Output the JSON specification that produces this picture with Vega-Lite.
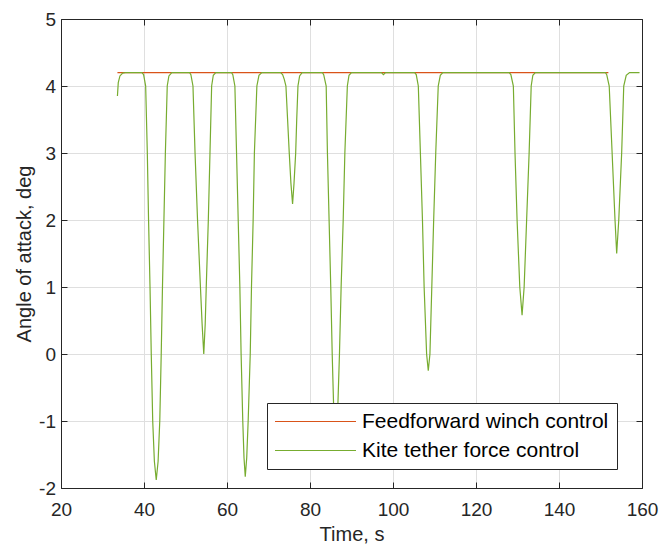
{
  "$schema": "https://vega.github.io/schema/vega-lite/v6.json",
  "width": 581,
  "height": 469,
  "autosize": {"type": "none"},
  "padding": {"left": 61, "top": 19, "right": 20, "bottom": 57},
  "config": {"view": {"stroke": null}, "font": "Liberation Sans"},
  "layer": [
    {
      "data": {"values": [
        {"t": 33.6, "v": 4.2, "series": "Feedforward winch control"},
        {"t": 151.9, "v": 4.2, "series": "Feedforward winch control"}
      ]},
      "mark": {"type": "line", "strokeWidth": 1.2},
      "encoding": {
        "x": {"field": "t", "type": "quantitative",
          "scale": {"domain": [20, 160], "nice": false, "zero": false},
          "axis": {"orient": "bottom", "title": "Time, s", "values": [20, 40, 60, 80, 100, 120, 140, 160],
            "grid": true, "gridColor": "#dfdfdf", "gridWidth": 1,
            "tickSize": -6, "tickColor": "#262626", "domainColor": "#262626",
            "labelPadding": 18, "labelFontSize": 19, "labelColor": "#262626", "labelFlush": false, "labelOverlap": false,
            "titleFontSize": 20, "titleFontWeight": "normal", "titleColor": "#262626", "titlePadding": 5}},
        "y": {"field": "v", "type": "quantitative",
          "scale": {"domain": [-2, 5], "nice": false, "zero": false},
          "axis": {"orient": "left", "title": "Angle of attack, deg", "values": [-2, -1, 0, 1, 2, 3, 4, 5],
            "labelExpr": "'' + datum.value",
            "grid": true, "gridColor": "#dfdfdf", "gridWidth": 1,
            "tickSize": -6, "tickColor": "#262626", "domainColor": "#262626",
            "labelPadding": 11.5, "labelFontSize": 19, "labelColor": "#262626", "labelOverlap": false,
            "titleFontSize": 20, "titleFontWeight": "normal", "titleColor": "#262626", "titlePadding": 4.5}},
        "color": {"field": "series", "type": "nominal",
          "scale": {"domain": ["Feedforward winch control", "Kite tether force control"], "range": ["#D95319", "#77AC30"]},
          "legend": {"orient": "none", "legendX": 206, "legendY": 384, "title": null,
            "symbolType": "M-10,0H10", "symbolSize": 65.61, "symbolOffset": 30, "symbolStrokeWidth": 1.2,
            "labelFontSize": 21, "labelColor": "#000000", "labelOffset": 36, "labelLimit": 400,
            "padding": 8, "rowPadding": 7, "strokeColor": "#262626", "fillColor": "#ffffff"}}
      }
    },
    {
      "data": {"values": [
        {"t": 33.6, "v": 3.85, "series": "Kite tether force control"},
        {"t": 33.8, "v": 4.05, "series": "Kite tether force control"},
        {"t": 34.2, "v": 4.15, "series": "Kite tether force control"},
        {"t": 34.8, "v": 4.19, "series": "Kite tether force control"},
        {"t": 35.5, "v": 4.2, "series": "Kite tether force control"},
        {"t": 39.5, "v": 4.2, "series": "Kite tether force control"},
        {"t": 39.9, "v": 4.17, "series": "Kite tether force control"},
        {"t": 40.4, "v": 4.0, "series": "Kite tether force control"},
        {"t": 40.8, "v": 3.0, "series": "Kite tether force control"},
        {"t": 41.1, "v": 2.0, "series": "Kite tether force control"},
        {"t": 41.45, "v": 1.0, "series": "Kite tether force control"},
        {"t": 41.75, "v": 0.0, "series": "Kite tether force control"},
        {"t": 42.1, "v": -1.0, "series": "Kite tether force control"},
        {"t": 42.5, "v": -1.6, "series": "Kite tether force control"},
        {"t": 42.95, "v": -1.88, "series": "Kite tether force control"},
        {"t": 43.4, "v": -1.6, "series": "Kite tether force control"},
        {"t": 43.8, "v": -1.0, "series": "Kite tether force control"},
        {"t": 44.15, "v": 0.0, "series": "Kite tether force control"},
        {"t": 44.45, "v": 1.0, "series": "Kite tether force control"},
        {"t": 44.8, "v": 2.0, "series": "Kite tether force control"},
        {"t": 45.15, "v": 3.0, "series": "Kite tether force control"},
        {"t": 45.6, "v": 4.0, "series": "Kite tether force control"},
        {"t": 46.0, "v": 4.15, "series": "Kite tether force control"},
        {"t": 46.7, "v": 4.2, "series": "Kite tether force control"},
        {"t": 51.0, "v": 4.2, "series": "Kite tether force control"},
        {"t": 51.3, "v": 4.17, "series": "Kite tether force control"},
        {"t": 51.8, "v": 4.0, "series": "Kite tether force control"},
        {"t": 52.3, "v": 3.0, "series": "Kite tether force control"},
        {"t": 52.9, "v": 2.0, "series": "Kite tether force control"},
        {"t": 53.6, "v": 1.0, "series": "Kite tether force control"},
        {"t": 54.0, "v": 0.45, "series": "Kite tether force control"},
        {"t": 54.4, "v": 0.0, "series": "Kite tether force control"},
        {"t": 54.75, "v": 0.45, "series": "Kite tether force control"},
        {"t": 55.0, "v": 1.0, "series": "Kite tether force control"},
        {"t": 55.5, "v": 2.0, "series": "Kite tether force control"},
        {"t": 55.9, "v": 3.0, "series": "Kite tether force control"},
        {"t": 56.3, "v": 4.0, "series": "Kite tether force control"},
        {"t": 56.7, "v": 4.16, "series": "Kite tether force control"},
        {"t": 57.3, "v": 4.2, "series": "Kite tether force control"},
        {"t": 61.1, "v": 4.2, "series": "Kite tether force control"},
        {"t": 61.4, "v": 4.17, "series": "Kite tether force control"},
        {"t": 61.9, "v": 4.0, "series": "Kite tether force control"},
        {"t": 62.3, "v": 3.0, "series": "Kite tether force control"},
        {"t": 62.7, "v": 2.0, "series": "Kite tether force control"},
        {"t": 63.1, "v": 1.0, "series": "Kite tether force control"},
        {"t": 63.4, "v": 0.0, "series": "Kite tether force control"},
        {"t": 63.8, "v": -1.0, "series": "Kite tether force control"},
        {"t": 64.1, "v": -1.55, "series": "Kite tether force control"},
        {"t": 64.4, "v": -1.83, "series": "Kite tether force control"},
        {"t": 64.75, "v": -1.55, "series": "Kite tether force control"},
        {"t": 65.1, "v": -1.0, "series": "Kite tether force control"},
        {"t": 65.6, "v": 0.0, "series": "Kite tether force control"},
        {"t": 65.9, "v": 1.0, "series": "Kite tether force control"},
        {"t": 66.3, "v": 2.0, "series": "Kite tether force control"},
        {"t": 66.6, "v": 3.0, "series": "Kite tether force control"},
        {"t": 67.2, "v": 4.0, "series": "Kite tether force control"},
        {"t": 67.7, "v": 4.16, "series": "Kite tether force control"},
        {"t": 68.4, "v": 4.2, "series": "Kite tether force control"},
        {"t": 72.9, "v": 4.2, "series": "Kite tether force control"},
        {"t": 73.4, "v": 4.17, "series": "Kite tether force control"},
        {"t": 73.8, "v": 4.1, "series": "Kite tether force control"},
        {"t": 74.2, "v": 4.0, "series": "Kite tether force control"},
        {"t": 74.6, "v": 3.5, "series": "Kite tether force control"},
        {"t": 75.0, "v": 3.0, "series": "Kite tether force control"},
        {"t": 75.4, "v": 2.55, "series": "Kite tether force control"},
        {"t": 75.8, "v": 2.24, "series": "Kite tether force control"},
        {"t": 76.15, "v": 2.55, "series": "Kite tether force control"},
        {"t": 76.55, "v": 3.0, "series": "Kite tether force control"},
        {"t": 76.8, "v": 3.5, "series": "Kite tether force control"},
        {"t": 77.1, "v": 4.0, "series": "Kite tether force control"},
        {"t": 77.5, "v": 4.15, "series": "Kite tether force control"},
        {"t": 78.1, "v": 4.2, "series": "Kite tether force control"},
        {"t": 83.0, "v": 4.2, "series": "Kite tether force control"},
        {"t": 83.3, "v": 4.17, "series": "Kite tether force control"},
        {"t": 83.9, "v": 4.0, "series": "Kite tether force control"},
        {"t": 84.2, "v": 3.0, "series": "Kite tether force control"},
        {"t": 84.6, "v": 2.0, "series": "Kite tether force control"},
        {"t": 85.0, "v": 1.0, "series": "Kite tether force control"},
        {"t": 85.35, "v": 0.0, "series": "Kite tether force control"},
        {"t": 85.7, "v": -0.8, "series": "Kite tether force control"},
        {"t": 86.2, "v": -1.3, "series": "Kite tether force control"},
        {"t": 86.7, "v": -0.8, "series": "Kite tether force control"},
        {"t": 87.1, "v": 0.0, "series": "Kite tether force control"},
        {"t": 87.5, "v": 1.0, "series": "Kite tether force control"},
        {"t": 88.0, "v": 2.0, "series": "Kite tether force control"},
        {"t": 88.4, "v": 3.0, "series": "Kite tether force control"},
        {"t": 89.0, "v": 4.0, "series": "Kite tether force control"},
        {"t": 89.4, "v": 4.16, "series": "Kite tether force control"},
        {"t": 90.0, "v": 4.2, "series": "Kite tether force control"},
        {"t": 97.2, "v": 4.2, "series": "Kite tether force control"},
        {"t": 97.7, "v": 4.17, "series": "Kite tether force control"},
        {"t": 98.2, "v": 4.2, "series": "Kite tether force control"},
        {"t": 105.2, "v": 4.2, "series": "Kite tether force control"},
        {"t": 105.6, "v": 4.17, "series": "Kite tether force control"},
        {"t": 106.1, "v": 4.0, "series": "Kite tether force control"},
        {"t": 106.6, "v": 3.0, "series": "Kite tether force control"},
        {"t": 107.1, "v": 2.0, "series": "Kite tether force control"},
        {"t": 107.5, "v": 1.0, "series": "Kite tether force control"},
        {"t": 108.1, "v": 0.0, "series": "Kite tether force control"},
        {"t": 108.5, "v": -0.25, "series": "Kite tether force control"},
        {"t": 108.9, "v": 0.0, "series": "Kite tether force control"},
        {"t": 109.35, "v": 1.0, "series": "Kite tether force control"},
        {"t": 109.8, "v": 2.0, "series": "Kite tether force control"},
        {"t": 110.3, "v": 3.0, "series": "Kite tether force control"},
        {"t": 110.9, "v": 4.0, "series": "Kite tether force control"},
        {"t": 111.4, "v": 4.16, "series": "Kite tether force control"},
        {"t": 112.0, "v": 4.2, "series": "Kite tether force control"},
        {"t": 128.0, "v": 4.2, "series": "Kite tether force control"},
        {"t": 128.4, "v": 4.17, "series": "Kite tether force control"},
        {"t": 129.0, "v": 4.0, "series": "Kite tether force control"},
        {"t": 129.4, "v": 3.0, "series": "Kite tether force control"},
        {"t": 129.9, "v": 2.0, "series": "Kite tether force control"},
        {"t": 130.55, "v": 1.0, "series": "Kite tether force control"},
        {"t": 131.1, "v": 0.58, "series": "Kite tether force control"},
        {"t": 131.6, "v": 1.0, "series": "Kite tether force control"},
        {"t": 132.2, "v": 2.0, "series": "Kite tether force control"},
        {"t": 132.8, "v": 3.0, "series": "Kite tether force control"},
        {"t": 133.3, "v": 4.0, "series": "Kite tether force control"},
        {"t": 133.7, "v": 4.16, "series": "Kite tether force control"},
        {"t": 134.3, "v": 4.2, "series": "Kite tether force control"},
        {"t": 151.2, "v": 4.2, "series": "Kite tether force control"},
        {"t": 151.5, "v": 4.17, "series": "Kite tether force control"},
        {"t": 152.1, "v": 4.0, "series": "Kite tether force control"},
        {"t": 152.8, "v": 3.0, "series": "Kite tether force control"},
        {"t": 153.5, "v": 2.0, "series": "Kite tether force control"},
        {"t": 153.9, "v": 1.5, "series": "Kite tether force control"},
        {"t": 154.4, "v": 2.0, "series": "Kite tether force control"},
        {"t": 155.1, "v": 3.0, "series": "Kite tether force control"},
        {"t": 155.6, "v": 4.0, "series": "Kite tether force control"},
        {"t": 156.2, "v": 4.16, "series": "Kite tether force control"},
        {"t": 157.0, "v": 4.2, "series": "Kite tether force control"},
        {"t": 159.4, "v": 4.2, "series": "Kite tether force control"}
      ]},
      "mark": {"type": "line", "strokeWidth": 1.2},
      "encoding": {
        "x": {"field": "t", "type": "quantitative",
          "axis": {"orient": "top", "title": null, "labels": false, "grid": false,
            "values": [20, 40, 60, 80, 100, 120, 140, 160],
            "tickSize": -6, "tickColor": "#262626", "domainColor": "#262626"}},
        "y": {"field": "v", "type": "quantitative",
          "axis": {"orient": "right", "title": null, "labels": false, "grid": false,
            "values": [-2, -1, 0, 1, 2, 3, 4, 5],
            "tickSize": -6, "tickColor": "#262626", "domainColor": "#262626"}},
        "color": {"field": "series", "type": "nominal"}
      }
    }
  ],
  "resolve": {"axis": {"x": "independent", "y": "independent"}}
}
